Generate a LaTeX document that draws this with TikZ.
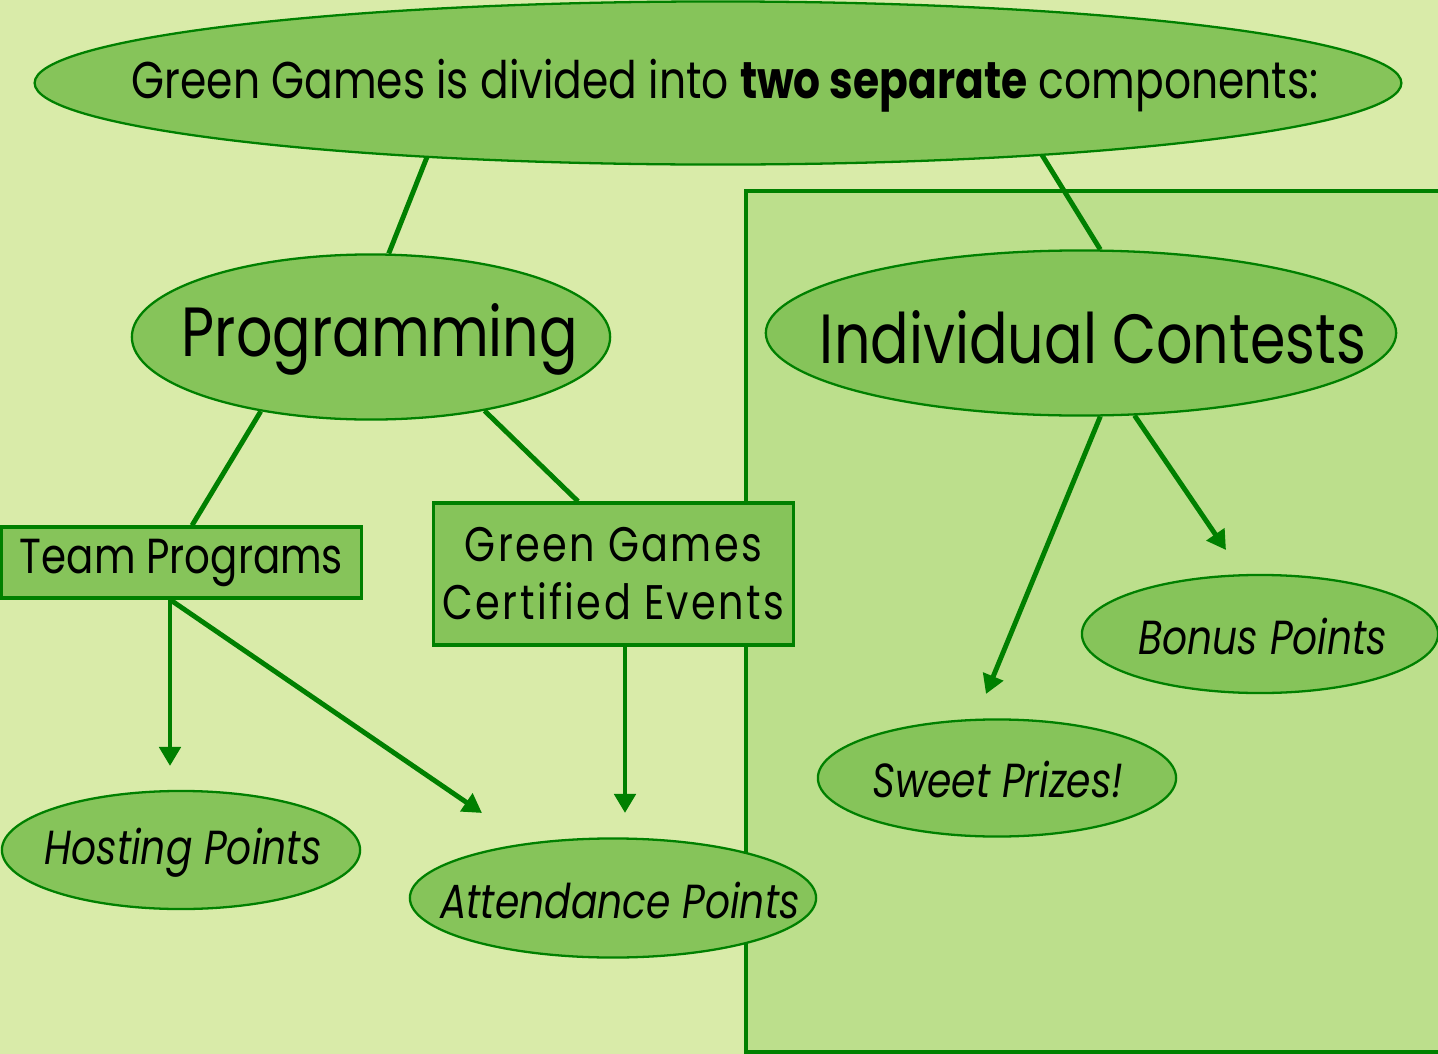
\documentclass[tikz,border=0pt]{standalone}
\usepackage{fontspec}
\setmainfont{Poppins}[FakeStretch=0.82]
\usetikzlibrary{shapes.geometric,arrows.meta,calc}
\definecolor{bgc}{RGB}{217,235,169}
\definecolor{boxc}{RGB}{188,223,140}
\definecolor{fillc}{RGB}{134,196,90}
\definecolor{linec}{RGB}{0,128,0}
\tikzset{
  oval/.style={ellipse, draw=linec, fill=fillc, line width=0.65pt, inner sep=0pt},
  rectbox/.style={rectangle, draw=linec, fill=fillc, line width=0.9pt, inner sep=0pt, align=center},
  label text/.style={inner sep=0pt, align=center},
  conn/.style={draw=linec, line width=1.4pt},
  arr/.style={conn, -{Triangle[width=0.21cm,length=0.19cm]}},
  bigtxt/.style={label text, font=\fontsize{19.8}{23}\selectfont},
  midtxt/.style={font=\fontsize{14}{16.5}\selectfont},
  leaftxt/.style={label text, font=\fontsize{13.6}{16}\selectfont\itshape},
}
\begin{document}
\begin{tikzpicture}[x=0.01cm,y=-0.01cm]
\fill[bgc] (0,0) rectangle (1438,1054);
\useasboundingbox (0,0) rectangle (1438,1054);
\draw[fill=boxc, draw=linec, line width=0.9pt] (746,191) rectangle (1460,1052);

\node[oval, minimum width=13.66cm, minimum height=1.63cm] (top) at (718,83) {};
\node[label text, font=\fontsize{14.7}{17}\selectfont] (toptext) at (725,86)
  {Green Games is divided into \textbf{two separate} components:};
\node[oval, minimum width=4.78cm, minimum height=1.65cm] (prog) at (371,337) {};
\node[bigtxt] (progtext) at (380,339) {Programming};
\node[oval, minimum width=6.30cm, minimum height=1.65cm] (ind) at (1081,333) {};
\node[bigtxt] (indtext) at (1093,337) {Individual Contests};
\node[rectbox, midtxt, minimum width=3.59cm, minimum height=0.71cm] (tp) at (181.5,562.5) {Team Programs};
\node[rectbox, font=\fontsize{13.8}{16.5}\selectfont\addfontfeatures{LetterSpace=5}, minimum width=3.59cm, minimum height=1.42cm] (cert) at (613.5,574) {Green Games\\Certified Events};
\node[oval, minimum width=3.58cm, minimum height=1.18cm] (host) at (181,850) {};
\node[leaftxt] (hosttext) at (183,853) {Hosting Points};
\node[oval, minimum width=4.06cm, minimum height=1.19cm] (att) at (613,898) {};
\node[leaftxt] (atttext) at (620,901) {Attendance Points};
\node[oval, minimum width=3.58cm, minimum height=1.17cm] (sweet) at (997,778) {};
\node[leaftxt] (sweettext) at (998,780) {Sweet Prizes!};
\node[oval, minimum width=3.56cm, minimum height=1.18cm] (bonus) at (1260,634) {};
\node[leaftxt] (bonustext) at (1263,637) {Bonus Points};

\coordinate (hostend) at (170,766);
\coordinate (attend1) at (482,813);
\coordinate (attend2) at (625,813);
\coordinate (sweetend) at (986,694);
\coordinate (bonusend) at (1226,550);

\draw[conn] ($(top.center)+(-291,74)$) -- (prog.78);
\draw[conn] ($(top.center)+(324,72)$) -- (ind.77);
\draw[conn] (prog.214.8) -- ($(tp.north)+(10.5,0)$);
\draw[conn] (prog.327.4) -- ($(cert.north)+(-35.5,0)$);
\draw[arr] ($(tp.south)+(-11.5,0)$) -- (hostend);
\draw[arr] ($(tp.south)+(-11.5,0)$) -- (attend1);
\draw[arr] ($(cert.south)+(11.5,0)$) -- (attend2);
\draw[arr] (ind.283.4) -- (sweetend);
\draw[arr] (ind.303) -- (bonusend);
\end{tikzpicture}
\end{document}
